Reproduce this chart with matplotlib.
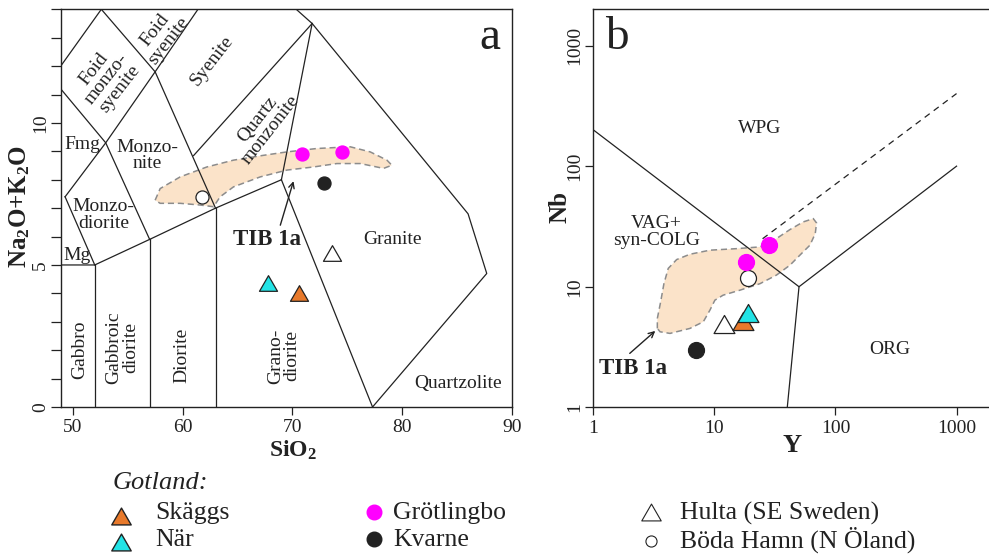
import matplotlib
matplotlib.use("Agg")
import matplotlib.pyplot as plt
from matplotlib.lines import Line2D
from matplotlib.path import Path

plt.rcParams['font.family'] = ['Liberation Serif', 'DejaVu Serif']
plt.rcParams['mathtext.fontset'] = 'custom'
plt.rcParams['mathtext.rm'] = 'Liberation Serif'
plt.rcParams['mathtext.bf'] = 'Liberation Serif:bold'
plt.rcParams['mathtext.it'] = 'Liberation Serif:italic'

INK = '#222222'
FILL = '#fbe3c9'

# ---- samples, panel a: SiO2 vs Na2O+K2O
skaggs_sio2, skaggs_alk = [70.6], [4.0]
nar_sio2, nar_alk = [67.8], [4.35]
grot_sio2, grot_alk = [70.9, 74.5], [8.92, 8.98]
kvarne_sio2, kvarne_alk = [72.9], [7.87]
hulta_sio2, hulta_alk = [73.6], [5.43]
boda_sio2, boda_alk = [61.8], [7.38]

# ---- samples, panel b: Y vs Nb
skaggs_y, skaggs_nb = [17.3], [5.15]
nar_y, nar_nb = [19.0], [6.1]
grot_y, grot_nb = [18.1, 28.2], [15.9, 22.1]
kvarne_y, kvarne_nb = [7.1], [3.0]
hulta_y, hulta_nb = [12.0], [4.95]
boda_y, boda_nb = [18.8], [11.9]

# TIB 1a field outlines
tib_a_sio2 = [57.5, 57.96, 59.78, 62.21, 64.64, 67.37, 69.5, 72.23, 75.27, 77.09,
              78.61, 79.06, 78.3, 76.18, 74.05, 71.93, 69.5, 67.07, 64.64, 63.42,
              62.82, 61.6, 59.78, 57.96]
tib_a_alk = [7.28, 7.69, 8.1, 8.45, 8.69, 8.86, 8.98, 9.1, 9.16, 8.98,
             8.69, 8.51, 8.4, 8.57, 8.57, 8.45, 8.34, 8.1, 7.75, 7.4,
             7.05, 7.11, 7.17, 7.17]
tib_b_y = [3.38, 3.38, 3.6, 3.83, 4.16, 4.88, 6.28, 9.19, 15.3, 23.8, 32.6, 42.1,
           54.2, 65.6, 69.8, 68.1, 61.5, 50.9, 42.1, 32.6, 23.8, 16.3, 11.8, 10.1,
           9.19, 8.1, 6.28, 4.3, 3.56]
tib_b_nb = [4.51, 5.46, 7.5, 10.6, 14.2, 16.8, 18.6, 20.1, 20.7, 21.4, 25.1, 29.8,
            34.5, 36.7, 33.8, 27.6, 22.1, 18.3, 15.1, 12.5, 10.6, 9.37, 8.51, 7.74,
            6.4, 5.12, 4.51, 4.1, 4.23]

# plutonic TAS field boundaries
tas_lines = [
    [(48.9, 5.0), (52, 5.0), (57, 5.9), (63, 7.0), (69, 8.0)],
    [(52, 0), (52, 5.0)],
    [(57, 0), (57, 5.9)],
    [(63, 0), (63, 7.0)],
    [(69, 8.0), (77.3, 0)],
    [(49.3, 7.4), (52, 5.0)],
    [(49.3, 7.4), (53, 9.3), (57.5, 11.8), (61.4, 14.0)],
    [(48.9, 11.2), (53, 9.3), (57, 5.9)],
    [(48.9, 12.0), (52.6, 14.0)],
    [(52.6, 14.0), (57.5, 11.8), (63, 7.0)],
    [(61.0, 8.85), (71.8, 13.5)],
    [(71.8, 13.5), (69, 8.0)],
    [(70.35, 14.0), (71.8, 13.5), (86, 6.8), (87.7, 4.7), (77.3, 0)],
]
tas_labels = [
    ('Foid\nmonzo-\nsyenite', 53.1, 11.55, 52),
    ('Foid\nsyenite', 58.1, 13.08, 52),
    ('Syenite', 62.7, 12.2, 52),
    ('Quartz\nmonzonite', 67.4, 9.95, 52),
    ('Fmg', 50.9, 9.25, 0),
    ('Monzo-\nnite', 56.8, 8.86, 0),
    ('Monzo-\ndiorite', 52.8, 6.76, 0),
    ('Mg', 50.4, 5.35, 0),
    ('Gabbro', 50.6, 2.0, 90),
    ('Gabbroic\ndiorite', 54.5, 2.1, 90),
    ('Diorite', 59.9, 1.8, 90),
    ('Grano-\ndiorite', 69.2, 1.8, 90),
    ('Granite', 79.1, 5.88, 0),
    ('Quartzolite', 85.05, 0.84, 0),
]

# Pearce et al. discrimination lines
pearce_solid = [
    [(1, 200), (50, 10), (1000, 100)],
    [(50, 10), (40, 1)],
]
pearce_dashed = [(25, 25), (1000, 400)]
pearce_labels = [
    ('WPG', 23.8, 204),
    ('VAG+\nsyn-COLG', 3.33, 28.5),
    ('ORG', 282, 3.0),
]

tri = Path([(-1, -0.866), (1, -0.866), (0, 0.866), (-1, -0.866)],
           [Path.MOVETO, Path.LINETO, Path.LINETO, Path.CLOSEPOLY])

styles = {
    'Skäggs': dict(marker=tri, mfc='#e8792a'),
    'När': dict(marker=tri, mfc='#22e3e6'),
    'Grötlingbo': dict(marker='o', mfc='#ff00ff', mec='#ff00ff'),
    'Kvarne': dict(marker='o', mfc='#222222'),
    'Hulta (SE Sweden)': dict(marker=tri, mfc='white'),
    'Böda Hamn (N Öland)': dict(marker='o', mfc='white'),
}

W, H = 989, 555
fig = plt.figure(figsize=(W / 100, H / 100), dpi=100)


def px_rect(l, t, r, b):
    return [l / W, 1 - b / H, (r - l) / W, (b - t) / H]


def plot_group(ax, name, xs, ys, circ, trisz):
    st = dict(styles[name])
    ms = trisz if st['marker'] is tri else circ
    st.setdefault('mec', INK)
    ax.plot(xs, ys, ls='none', ms=ms, mew=0.9, zorder=4, **st)


# ---------------- panel a ----------------
ax = fig.add_axes(px_rect(60.7, 9.3, 512, 407))
ax.set_xlim(48.9, 90)
ax.set_ylim(0, 14)
ax.fill(tib_a_sio2, tib_a_alk, facecolor=FILL, edgecolor='#8c8c8c',
        ls=(0, (4, 2.5)), lw=1.1, zorder=1)
for seg in tas_lines:
    xs, ys = zip(*seg)
    ax.plot(xs, ys, color=INK, lw=0.9, zorder=2)
for txt, x, y, rot in tas_labels:
    ax.text(x, y, txt, rotation=rot, ha='center', va='center', ma='center',
            fontsize=14, color=INK, linespacing=0.95, zorder=3)
ax.text(67.7, 5.88, 'TIB 1a', fontsize=16.5, fontweight='bold', color=INK,
        ha='center', va='center')
ax.annotate('', xy=(70.1, 7.95), xytext=(68.9, 6.4),
            arrowprops=dict(arrowstyle='->', lw=1.0, color=INK,
                            shrinkA=0, shrinkB=0))
ax.text(88.0, 13.0, 'a', fontsize=34, color=INK, ha='center', va='center')

plot_group(ax, 'Böda Hamn (N Öland)', boda_sio2, boda_alk, 9.4, 13)
plot_group(ax, 'Hulta (SE Sweden)', hulta_sio2, hulta_alk, 9.4, 13)
plot_group(ax, 'Kvarne', kvarne_sio2, kvarne_alk, 9.4, 13)
plot_group(ax, 'Grötlingbo', grot_sio2, grot_alk, 9.4, 13)
plot_group(ax, 'När', nar_sio2, nar_alk, 9.4, 13)
plot_group(ax, 'Skäggs', skaggs_sio2, skaggs_alk, 9.4, 13)

ax.set_xticks([50, 60, 70, 80, 90])
ax.set_yticks([0, 5, 10])
ax.set_yticks(range(0, 15), minor=True)
ax.tick_params(axis='x', direction='out', length=5.5, width=0.9, pad=3,
               labelsize=14, colors=INK)
ax.tick_params(axis='y', which='both', direction='out', length=7.5, width=0.9,
               pad=1, labelsize=14, colors=INK, labelrotation=90)
for t in ax.get_yticklabels():
    t.set_va('center')
ax.set_xlabel(r'$\mathbf{SiO_2}$', fontsize=17, color=INK)
ax.xaxis.set_label_coords(0.515, -0.108)
ax.xaxis.label.set_va('center')
ax.set_ylabel(r'$\mathbf{Na_2O{+}K_2O}$', fontsize=18, color=INK)
ax.yaxis.set_label_coords(-0.09, 0.504)
ax.yaxis.label.set_va('center')
for s in ax.spines.values():
    s.set_color(INK)
    s.set_linewidth(1.0)

# ---------------- panel b ----------------
bx = fig.add_axes(px_rect(593.3, 9.3, 993, 407.3))
bx.set_xscale('log')
bx.set_yscale('log')
bx.set_xlim(1, 2000)
bx.set_ylim(1, 2000)
bx.fill(tib_b_y, tib_b_nb, facecolor=FILL, edgecolor='#8c8c8c',
        ls=(0, (4, 2.5)), lw=1.1, zorder=1)
for seg in pearce_solid:
    xs, ys = zip(*seg)
    bx.plot(xs, ys, color=INK, lw=0.9, zorder=2)
xs, ys = zip(*pearce_dashed)
bx.plot(xs, ys, color=INK, lw=0.9, ls=(0, (5, 4)), zorder=2)
for txt, x, y in pearce_labels:
    bx.text(x, y, txt, ha='center', va='center', ma='center', fontsize=14,
            color=INK, linespacing=0.95)
bx.text(2.14, 2.1, 'TIB 1a', fontsize=16.5, fontweight='bold', color=INK,
        ha='center', va='center')
bx.annotate('', xy=(3.25, 4.3), xytext=(2.0, 2.8),
            arrowprops=dict(arrowstyle='->', lw=1.0, color=INK,
                            shrinkA=0, shrinkB=0))
bx.text(1.55, 1170, 'b', fontsize=34, color=INK, ha='center', va='center')

plot_group(bx, 'Kvarne', kvarne_y, kvarne_nb, 11.5, 15)
plot_group(bx, 'Hulta (SE Sweden)', hulta_y, hulta_nb, 11.5, 15)
plot_group(bx, 'Skäggs', skaggs_y, skaggs_nb, 11.5, 15)
plot_group(bx, 'När', nar_y, nar_nb, 11.5, 15)
plot_group(bx, 'Böda Hamn (N Öland)', boda_y, boda_nb, 11.5, 15)
plot_group(bx, 'Grötlingbo', grot_y, grot_nb, 11.5, 15)

bx.set_xticks([1, 10, 100, 1000], ['1', '10', '100', '1000'])
bx.set_yticks([1, 10, 100, 1000], ['1', '10', '100', '1000'])
bx.minorticks_off()
bx.tick_params(axis='x', direction='out', length=6, width=0.9, pad=3,
               labelsize=14, colors=INK)
bx.tick_params(axis='y', direction='out', length=6, width=0.9, pad=1,
               labelsize=14, colors=INK, labelrotation=90)
for t in bx.get_yticklabels():
    t.set_va('center')
bx.set_xlabel('Y', fontsize=19, fontweight='bold', color=INK)
bx.xaxis.set_label_coords(0.497, -0.095)
bx.xaxis.label.set_va('center')
bx.set_ylabel('Nb', fontsize=18, fontweight='bold', color=INK)
bx.yaxis.set_label_coords(-0.083, 0.503)
bx.yaxis.label.set_va('center')
for s in bx.spines.values():
    s.set_color(INK)
    s.set_linewidth(1.0)

# ---------------- legend ----------------
# (name, marker x, marker y, text x, text y) in pixels
legend_rows = [
    ('Skäggs', 121, 516, 155, 513),
    ('När', 121, 542, 155, 540),
    ('Grötlingbo', 374, 512, 393, 513),
    ('Kvarne', 374, 539, 393, 540),
    ('Hulta (SE Sweden)', 651, 512, 680, 513),
    ('Böda Hamn (N Öland)', 651, 541, 680, 540),
]
leg_sizes = {'Skäggs': 14, 'När': 14, 'Grötlingbo': 10.5, 'Kvarne': 10.5,
             'Hulta (SE Sweden)': 14, 'Böda Hamn (N Öland)': 8}
fig.text(113 / W, 1 - 483 / H, 'Gotland:', fontsize=19, style='italic',
         color=INK, ha='left', va='center')
for name, mx, my, tx, ty in legend_rows:
    st = dict(styles[name])
    st.setdefault('mec', INK)
    thin = name.startswith(('Hulta', 'Böda'))
    fig.add_artist(Line2D([mx / W], [1 - my / H], transform=fig.transFigure,
                          ls='none', ms=leg_sizes[name],
                          mew=0.8 if thin else 1.0, **st))
    fig.text(tx / W, 1 - ty / H, name, fontsize=18.5, color=INK,
             ha='left', va='center')

fig.savefig('out.png', dpi=100)
